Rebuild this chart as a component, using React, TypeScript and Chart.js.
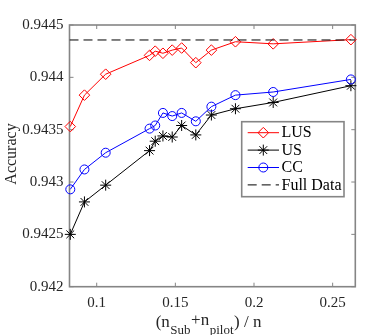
import React, { useEffect, useRef } from 'react';
import { Chart, registerables } from 'chart.js';

Chart.register(...registerables);

// ---- data ----
const xValues = [0.0832, 0.0922, 0.1057, 0.1336, 0.1372, 0.1421, 0.148, 0.154, 0.163, 0.1729, 0.1882, 0.2122, 0.2616];
const lusValues = [0.94353, 0.94383, 0.94403, 0.94421, 0.94425, 0.94423, 0.94426, 0.94428, 0.94414, 0.94426, 0.94434, 0.94432, 0.94436];
const usValues = [0.9425, 0.94281, 0.94297, 0.9433, 0.94339, 0.94344, 0.94343, 0.94354, 0.94345, 0.94364, 0.9437, 0.94376, 0.94392];
const ccValues = [0.94293, 0.94312, 0.94328, 0.94351, 0.94354, 0.94366, 0.94363, 0.94366, 0.94358, 0.94372, 0.94383, 0.94386, 0.94398];
const fullDataValue = 0.944357;
const seriesLabels = ['LUS', 'US', 'CC', 'Full Data'];
const xTicks = [0.1, 0.15, 0.2, 0.25];
const yTicks = [0.942, 0.9425, 0.943, 0.9435, 0.944, 0.9445];
const xRange = [0.0827, 0.2644];
const yRange = [0.942, 0.9445];

const FONT = '"Liberation Serif", "Times New Roman", serif';
const AXIS_COLOR = '#858585';

function drawMarker(ctx: CanvasRenderingContext2D, style: string, x: number, y: number, r: number, color: string) {
  ctx.save();
  ctx.strokeStyle = color;
  ctx.lineWidth = 1;
  ctx.setLineDash([]);
  ctx.beginPath();
  if (style === 'rectRot') {
    ctx.moveTo(x, y - r);
    ctx.lineTo(x + r, y);
    ctx.lineTo(x, y + r);
    ctx.lineTo(x - r, y);
    ctx.closePath();
  } else if (style === 'circle') {
    ctx.arc(x, y, r, 0, Math.PI * 2);
  } else if (style === 'star') {
    const d = r * Math.SQRT1_2;
    ctx.moveTo(x - r, y); ctx.lineTo(x + r, y);
    ctx.moveTo(x, y - r); ctx.lineTo(x, y + r);
    ctx.moveTo(x - d, y - d); ctx.lineTo(x + d, y + d);
    ctx.moveTo(x - d, y + d); ctx.lineTo(x + d, y - d);
  }
  ctx.stroke();
  ctx.restore();
}

const framePlugin = {
  id: 'matlabFrame',
  beforeDatasetsDraw(chart: any) {
    const { ctx, chartArea } = chart;
    const { left, right, top, bottom } = chartArea;
    const xs = chart.scales.x;
    const ys = chart.scales.y;
    ctx.save();
    ctx.strokeStyle = AXIS_COLOR;
    ctx.lineWidth = 1.6;
    ctx.strokeRect(left, top, right - left, bottom - top);
    ctx.lineWidth = 1;
    const tl = 4;
    ctx.beginPath();
    xTicks.forEach((v) => {
      const px = xs.getPixelForValue(v);
      ctx.moveTo(px, bottom); ctx.lineTo(px, bottom - tl);
      ctx.moveTo(px, top); ctx.lineTo(px, top + tl);
    });
    yTicks.forEach((v) => {
      const py = ys.getPixelForValue(v);
      ctx.moveTo(left, py); ctx.lineTo(left + tl, py);
      ctx.moveTo(right, py); ctx.lineTo(right - tl, py);
    });
    ctx.stroke();
    ctx.restore();
  },
};

const titlesPlugin = {
  id: 'matlabTitles',
  afterDraw(chart: any) {
    const { ctx } = chart;
    ctx.save();
    ctx.fillStyle = '#262626';
    // y title
    ctx.save();
    ctx.translate(15.5, 154);
    ctx.rotate(-Math.PI / 2);
    ctx.font = `16px ${FONT}`;
    ctx.textAlign = 'center';
    ctx.textBaseline = 'alphabetic';
    ctx.fillText('Accuracy', 0, 0);
    ctx.restore();
    // x title with subscripts
    const parts = [
      { t: '(n', sub: false, dy: 0 },
      { t: 'Sub', sub: true, dy: 0 },
      { t: '+n', sub: false, dy: -2.5 },
      { t: 'pilot', sub: true, dy: 0 },
      { t: ') / n', sub: false, dy: 0 },
    ];
    const mainFont = `17px ${FONT}`;
    const subFont = `13px ${FONT}`;
    let total = 0;
    const widths = parts.map((p) => {
      ctx.font = p.sub ? subFont : mainFont;
      const w = ctx.measureText(p.t).width + 0.5;
      total += w;
      return w;
    });
    let x = 208.8 - total / 2;
    const base = 327;
    ctx.textAlign = 'left';
    ctx.textBaseline = 'alphabetic';
    parts.forEach((p, i) => {
      ctx.font = p.sub ? subFont : mainFont;
      ctx.fillText(p.t, x, p.sub ? base + 6.5 : base + p.dy);
      x += widths[i];
    });
    ctx.restore();
  },
};

const legendPlugin = {
  id: 'matlabLegend',
  afterDraw(chart: any) {
    const { ctx } = chart;
    const x0 = 241.7, y0 = 121.7, w = 102.3, h = 75;
    ctx.save();
    ctx.fillStyle = '#ffffff';
    ctx.fillRect(x0, y0, w, h);
    ctx.strokeStyle = AXIS_COLOR;
    ctx.lineWidth = 1.6;
    ctx.strokeRect(x0, y0, w, h);
    chart.data.datasets.forEach((ds: any, i: number) => {
      const cy = 132.7 + i * 17.4;
      ctx.strokeStyle = ds.borderColor;
      ctx.lineWidth = 1;
      ctx.setLineDash(ds.borderDash || []);
      ctx.beginPath();
      ctx.moveTo(247.7, cy);
      ctx.lineTo(279, cy);
      ctx.stroke();
      ctx.setLineDash([]);
      if (ds.pointRadius > 0) drawMarker(ctx, ds.pointStyle, 263.3, cy, ds.pointRadius, ds.borderColor);
      ctx.fillStyle = '#000000';
      ctx.font = `16px ${FONT}`;
      ctx.textAlign = 'left';
      ctx.textBaseline = 'middle';
      ctx.fillText(ds.label, 281.5, cy + 0.5);
    });
    ctx.restore();
  },
};

function toPoints(ys: number[]) {
  return xValues.map((x, i) => ({ x, y: ys[i] }));
}

export default function App() {
  const ref = useRef<HTMLCanvasElement | null>(null);
  useEffect(() => {
    if (!ref.current) return;
    const fmt = (v: any) => parseFloat(Number(v).toFixed(4)).toString();
    const chart = new Chart(ref.current, {
      type: 'line',
      data: {
        datasets: [
          {
            label: seriesLabels[0],
            data: toPoints(lusValues),
            borderColor: '#ff0000',
            backgroundColor: 'transparent',
            borderWidth: 1,
            pointStyle: 'rectRot',
            pointRadius: 5.3,
            pointBorderWidth: 1,
            pointBackgroundColor: 'transparent',
            pointBorderColor: '#ff0000',
            order: 4,
            clip: false,
          } as any,
          {
            label: seriesLabels[1],
            data: toPoints(usValues),
            borderColor: '#000000',
            backgroundColor: 'transparent',
            borderWidth: 1,
            pointStyle: 'star',
            pointRadius: 5.5,
            pointBorderWidth: 1,
            pointBackgroundColor: 'transparent',
            pointBorderColor: '#000000',
            order: 3,
            clip: false,
          },
          {
            label: seriesLabels[2],
            data: toPoints(ccValues),
            borderColor: '#0000ff',
            backgroundColor: 'transparent',
            borderWidth: 1,
            pointStyle: 'circle',
            pointRadius: 4.5,
            pointBorderWidth: 1,
            pointBackgroundColor: 'transparent',
            pointBorderColor: '#0000ff',
            order: 2,
            clip: false,
          },
          {
            label: seriesLabels[3],
            data: [
              { x: xRange[0], y: fullDataValue },
              { x: xRange[1], y: fullDataValue },
            ],
            borderColor: '#000000',
            backgroundColor: 'transparent',
            borderWidth: 1,
            borderDash: [9, 5],
            pointRadius: 0,
            order: 1,
          },
        ],
      },
      options: {
        responsive: false,
        animation: false,
        devicePixelRatio: 1,
        events: [],
        layout: { padding: { left: 0, right: 36.7, top: 25, bottom: 0 } },
        plugins: { legend: { display: false }, tooltip: { enabled: false } },
        elements: { line: { tension: 0 } },
        scales: {
          x: {
            type: 'linear',
            min: xRange[0],
            max: xRange[1],
            grid: { display: false, drawTicks: false },
            border: { display: false },
            afterBuildTicks: (s: any) => { s.ticks = xTicks.map((v) => ({ value: v })); },
            afterFit: (s: any) => { s.height = 48.3; },
            ticks: {
              autoSkip: false,
              maxRotation: 0,
              padding: 7,
              color: '#262626',
              font: { family: FONT, size: 15 },
              callback: fmt,
            },
          },
          y: {
            type: 'linear',
            min: yRange[0],
            max: yRange[1],
            grid: { display: false, drawTicks: false },
            border: { display: false },
            afterBuildTicks: (s: any) => { s.ticks = yTicks.map((v) => ({ value: v })); },
            afterFit: (s: any) => { s.width = 69.5; },
            ticks: {
              autoSkip: false,
              padding: 6,
              color: '#262626',
              font: { family: FONT, size: 15 },
              callback: fmt,
            },
          },
        },
      },
      plugins: [framePlugin, titlesPlugin, legendPlugin],
    } as any);
    return () => chart.destroy();
  }, []);
  return (
    <div style={{ position: 'fixed', left: 0, top: 0, width: 392, height: 335, background: '#fff' }}>
      <canvas ref={ref} width={392} height={335} style={{ display: 'block', width: 392, height: 335 }} />
    </div>
  );
}
